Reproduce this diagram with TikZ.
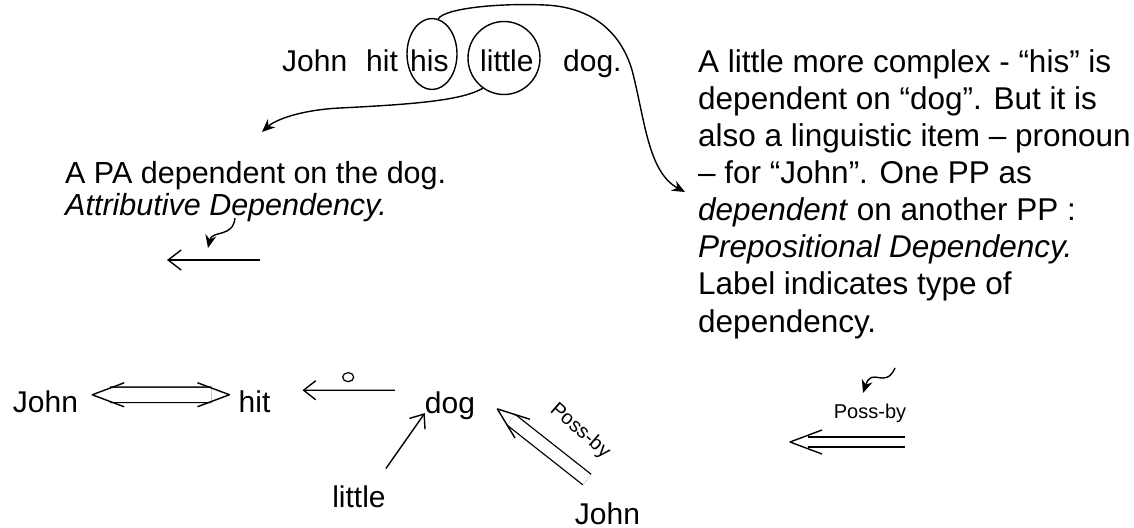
\documentclass[tikz,border=0pt]{standalone}
\usepackage{fontspec}
\setmainfont{Liberation Sans}
\usetikzlibrary{arrows.meta,shapes.geometric,decorations.markings}
\tikzset{
  word/.style={inner sep=0pt, font=\fontsize{30}{32}\selectfont},
  tag/.style={inner sep=0pt, font=\fontsize{20}{24}\selectfont},
  ring/.style={draw, ellipse, line width=1.4pt, inner sep=0pt},
  link/.style={line width=1.4pt},
  pointer/.style={link, -{Stealth[length=13pt,width=11pt]}},
  barb/.style={link, -{Straight Barb[length=12pt,width=19pt]}},
  dbl/.style={line width=1.3pt, double, double distance=#1},
  chev/.style={line width=1.4pt, line join=round},
  head/.style={postaction={decorate, decoration={markings,
    mark=at position 1 with {\draw[chev] (-14pt,12pt) -- (18pt,0pt) -- (-14pt,-12pt);}}}},
  tail/.style={postaction={decorate, decoration={markings,
    mark=at position 0 with {\draw[chev] (14pt,12pt) -- (-18pt,0pt) -- (14pt,-12pt);}}}},
}
\begin{document}
\begin{tikzpicture}[x=1pt, y=-1pt]
\useasboundingbox (0,0) rectangle (1134,527);
% the sentence
\node[word, anchor=base west] (sjohn) at (282,71) {John};
\node[word, anchor=base west] (shit) at (366,71) {hit};
\node[word, anchor=base west] (shis) at (410,71) {his};
\node[word, anchor=base west] (slittle) at (480,71) {little};
\node[word, anchor=base west] (sdog) at (563,71) {dog.};
\node[ring, minimum width=50pt, minimum height=71pt] (hisring) at (432,54) {};
\node[ring, minimum width=72pt, minimum height=73pt] (littlering) at (504,58) {};
% notes
\node[word, font=\fontsize{30.5}{32}\selectfont, anchor=base west, align=left] (pagloss) at (65,215)
  {A PA dependent on the dog.\\ \textit{Attributive Dependency.}};
\node[word, font=\fontsize{31.5}{37.14}\selectfont, anchor=base west, align=left] (ppgloss) at (698,332)
  {A little more complex - “his” is\\
   dependent on “dog”. But it is\\
   also a linguistic item – pronoun\\
   – for “John”. One PP as\\
   \textit{dependent} on another PP :\\
   \textit{Prepositional Dependency.}\\
   Label indicates type of\\
   dependency.};
\coordinate (pptip) at (685,192);
\coordinate (patip) at (262,132);
\draw[pointer] (hisring.80) .. controls (445,8) and (500,3) .. (545,5)
  .. controls (590,7) and (620,30) .. (632,70)
  .. controls (645,120) and (648,172) .. (pptip);
\draw[pointer] (littlering.235) .. controls (462,100) and (420,104) .. (340,108)
  .. controls (300,110) and (275,120) .. (patip);
% attributive arrow
\coordinate (attrA) at (260,260);
\coordinate (attrB) at (167,260);
\coordinate (attrS) at (235,218);
\coordinate (attrT) at (208,248);
\draw[link, -{Straight Barb[length=13pt,width=20pt]}] (attrA) -- (attrB);
\draw[pointer] (attrS) .. controls (233,238) and (212,230) .. (attrT);
% the graph
\node[word, anchor=base] (bjohn) at (45.5,412) {John};
\node[word, anchor=base] (bhit) at (254.5,412) {hit};
\node[word, anchor=base] (bdog) at (450,413) {dog};
\node[word, anchor=base] (blittle) at (359,507) {little};
\node[word, anchor=base] (bjohnb) at (607.5,524) {John};
\draw[dbl=14pt, head, tail] ([shift={(32pt,6.5pt)}]bjohn.east) -- ([shift={(-27pt,6.5pt)}]bhit.west);
\draw[barb] ([shift={(-30pt,15pt)}]bdog.west) --
  node[pos=.505, above=8pt, draw, ellipse, inner sep=0pt, minimum width=11pt, minimum height=9pt, line width=1.2pt] (tense) {}
  ([shift={(32pt,11pt)}]bhit.east);
\draw[barb] ([yshift=16.5pt]blittle.north east) -- ([yshift=6.3pt]bdog.south west);
\draw[dbl=12pt, head] ([shift={(-20.5pt,22.5pt)}]bjohnb.north) -- ([shift={(36pt,-14.6pt)}]bdog.east);
\node[tag, rotate=-41] (possa) at (580,431) {Poss-by};
% the label
\node[tag] (possb) at (870,413) {Poss-by};
\coordinate (possA) at (905,442);
\coordinate (possB) at (808,442);
\coordinate (possS) at (895,368);
\coordinate (possT) at (863,393);
\draw[dbl=8.5pt, head] (possA) -- (possB);
\draw[pointer] (possS) .. controls (885,390) and (872,366) .. (possT);
\end{tikzpicture}
\end{document}
